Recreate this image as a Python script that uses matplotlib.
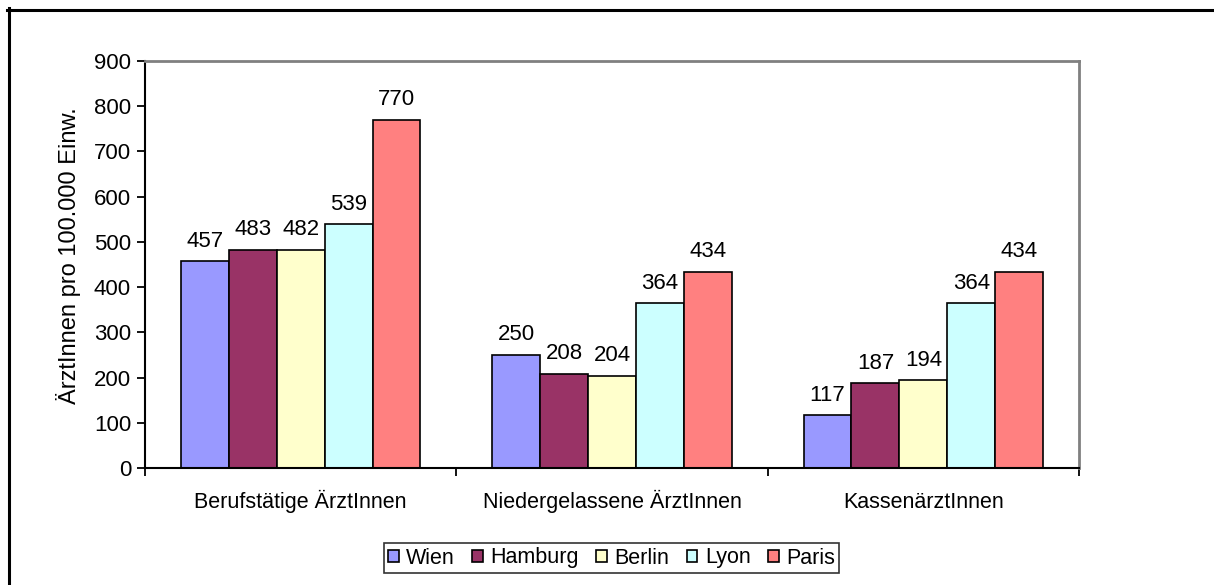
import matplotlib.pyplot as plt
from matplotlib.lines import Line2D
import numpy as np

plt.rcParams['font.family'] = ['Liberation Sans', 'DejaVu Sans']

# Ärztedichte je Stadt und Kategorie
categories = ["Berufstätige ÄrztInnen", "Niedergelassene ÄrztInnen", "KassenärztInnen"]
cities = ["Wien", "Hamburg", "Berlin", "Lyon", "Paris"]
wien = [457, 250, 117]
hamburg = [483, 208, 187]
berlin = [482, 204, 194]
lyon = [539, 364, 364]
paris = [770, 434, 434]
colors = ["#9999FF", "#993366", "#FFFFCC", "#CCFFFF", "#FF8080"]

series = [wien, hamburg, berlin, lyon, paris]

fig = plt.figure(figsize=(12.14, 5.85), dpi=100)
ax = fig.add_axes([145 / 1214, 1 - 468 / 585, (1079 - 145) / 1214, (468 - 61) / 585])

x = np.arange(len(categories))
w = 1 / 6.5  # Excel-Standard: Abstand 150 % einer Säulenbreite

for i, (name, vals, col) in enumerate(zip(cities, series, colors)):
    pos = x + (i - 2) * w
    bars = ax.bar(pos, vals, width=w, color=col, edgecolor="black", linewidth=1.2, label=name)
    for b, v in zip(bars, vals):
        ax.annotate(str(v), (b.get_x() + b.get_width() / 2, v), xytext=(0, 10.5),
                    textcoords="offset points", ha="center", va="baseline", fontsize=16)

ax.set_xlim(-0.5, 2.5)
ax.set_ylim(0, 900)
ax.set_yticks(range(0, 901, 100))
ax.set_xticks(x)
ax.set_xticklabels(categories, fontsize=15.5)
for lbl in ax.get_xticklabels():
    lbl.set_verticalalignment("baseline")
ax.set_xticks([-0.5, 0.5, 1.5, 2.5], minor=True)
ax.tick_params(axis="x", which="major", length=0, pad=29)
ax.tick_params(axis="x", which="minor", length=6, width=1.3, direction="out")
ax.tick_params(axis="y", length=6, width=1.3, labelsize=16, pad=4)
ax.set_ylabel("ÄrztInnen pro 100.000 Einw.", fontsize=17)
ax.yaxis.set_label_coords(-0.068, 0.523)

for s in ["left", "bottom"]:
    ax.spines[s].set_color("black")
    ax.spines[s].set_linewidth(1.5)
for s in ["top", "right"]:
    ax.spines[s].set_color("#808080")
    ax.spines[s].set_linewidth(2)

leg = fig.legend(loc="center", bbox_to_anchor=(611.5 / 1214, 1 - 558 / 585), ncol=5,
                 fontsize=15.5, frameon=True, fancybox=False, edgecolor="black",
                 handlelength=0.5, handleheight=0.5, handletextpad=0.35,
                 columnspacing=0.8, borderpad=0.2, borderaxespad=0)
leg.get_frame().set_linewidth(1.2)

# Rahmen oben und links
fig.add_artist(Line2D([7 / 1214, 1], [1 - 9.5 / 585, 1 - 9.5 / 585], color="black", lw=2.2,
                      transform=fig.transFigure))
fig.add_artist(Line2D([8.5 / 1214, 8.5 / 1214], [0, 1 - 8 / 585], color="black", lw=2.2,
                      transform=fig.transFigure))

fig.savefig("out.png", dpi=100)
